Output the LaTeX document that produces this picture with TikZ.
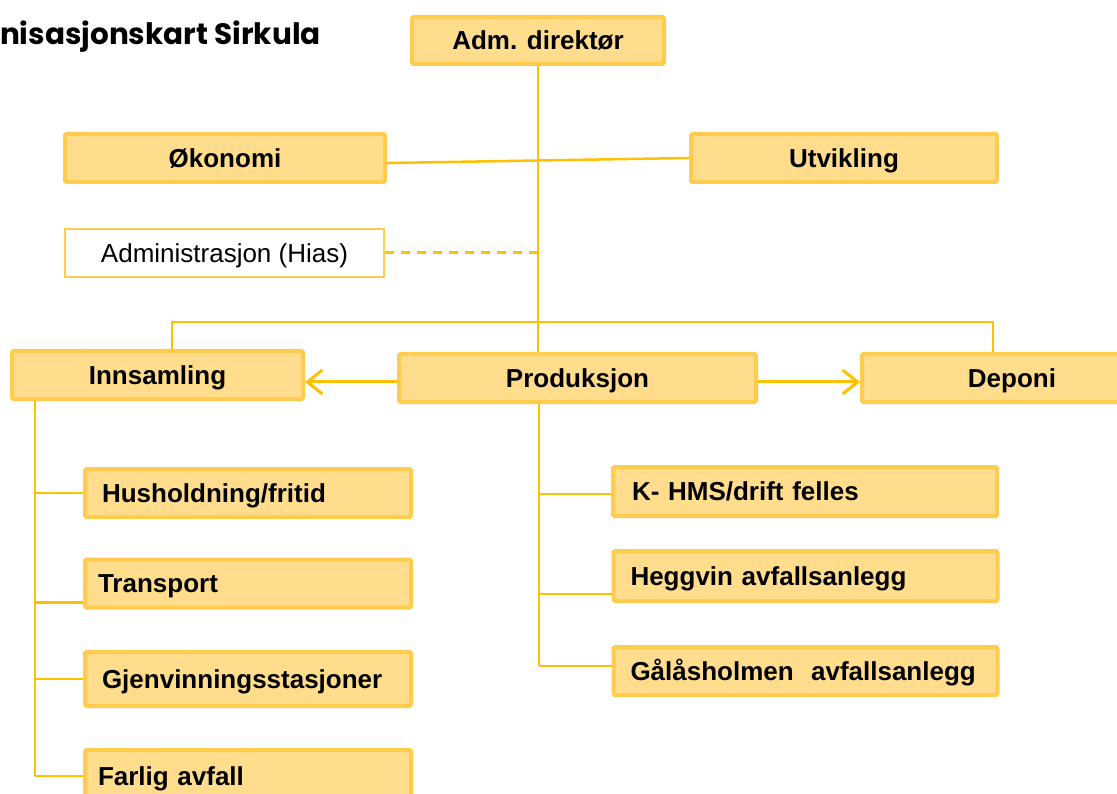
\documentclass[tikz,border=0pt]{standalone}
\usepackage{fontspec}
\setmainfont{Liberation Sans}
\newfontfamily\titlefont{Poppins}
\usepackage{xcolor}
\usetikzlibrary{arrows.meta}
\definecolor{unitfill}{RGB}{255,221,140}
\definecolor{unitedge}{RGB}{255,204,77}
\definecolor{linkyellow}{RGB}{255,192,0}

\tikzset{
    unit/.style={draw=unitedge, fill=unitfill, line width=4pt, rounded corners=1.5pt,
        inner sep=0pt, minimum height=48pt, text height=18.6pt, text depth=0pt,
        font=\fontsize{26}{30}\selectfont\bfseries},
    subunit/.style={unit, text width=#1, align=left, inner xsep=17pt},
    hiasbox/.style={draw=unitedge, fill=white, line width=2pt, inner sep=0pt,
        minimum height=48pt, text height=18.6pt, text depth=0pt,
        font=\fontsize{26}{30}\selectfont},
    link/.style={draw=linkyellow, line width=2.5pt},
    dashlink/.style={link, line width=3pt, dash pattern=on 9pt off 7pt},
    flow/.style={link, line width=3pt, -{Straight Barb[length=15pt,width=24pt,line width=3pt]}}
}

\begin{document}
\begin{tikzpicture}[x=1pt,y=-1pt]
    % frame
    \useasboundingbox (0,0) rectangle (1117,794);
    \clip (0,0) rectangle (1117,794);

    \node[anchor=base east, inner sep=0pt, font=\titlefont\fontsize{29.5}{32}\selectfont\bfseries] (title) at (321,45) {Organisasjonskart Sirkula};

    % top level
    \node[unit, minimum width=252pt, minimum height=47pt] (adm) at (538,40.5) {Adm. direktør};
    \node[unit, minimum width=320pt] (okonomi) at (225,158) {Økonomi};
    \node[unit, minimum width=306pt] (utvikling) at (844,158) {Utvikling};
    \node[hiasbox, minimum width=319pt] (hias) at (224.5,253) {Administrasjon (Hias)};

    % departments
    \node[unit, minimum width=291pt] (innsamling) at (157.5,375) {Innsamling};
    \node[unit, minimum width=357pt] (produksjon) at (577.5,378) {Produksjon};
    \node[unit, minimum width=300pt] (deponi) at (1012,378) {Deponi};

    % innsamling
    \node[subunit=292pt] (hush) at (248,493) {Husholdning/fritid};
    \node[subunit=300pt, inner xsep=13pt] (transport) at (248,583.5) {Transport};
    \node[subunit=292pt, minimum height=54pt] (gjenv) at (248,679) {Gjenvinningsstasjoner};
    \node[subunit=300pt, inner xsep=13pt, minimum height=52pt] (farlig) at (248,776) {Farlig avfall};

    % produksjon
    \node[subunit=346pt, inner xsep=19pt, minimum height=49pt] (khms) at (805,491.5) {K- HMS/drift felles};
    \node[subunit=350pt, minimum height=50pt] (heggvin) at (805.5,576) {Heggvin avfallsanlegg};
    \node[subunit=350pt] (gala) at (805.5,671) {Gålåsholmen\ \ avfallsanlegg};

    % lines
    \coordinate (busL) at (172,322);
    \coordinate (busR) at (993,322);
    \coordinate (ltrunk) at (35,401);
    \coordinate (rtrunk) at (539,404);
    \coordinate (transportin) at ([yshift=-19pt]transport.west);
    \coordinate (khmsin) at ([yshift=-2.5pt]khms.west);
    \coordinate (heggvinin) at ([yshift=-18pt]heggvin.west);
    \coordinate (galain) at ([yshift=5pt]gala.west);

    \draw[link] (adm.south) -- (adm.south |- produksjon.north);
    \draw[link] ([yshift=-5pt]okonomi.east) -- (utvikling.west);
    \draw[dashlink] (hias.east) -- (adm.south |- hias.east);
    \draw[link] (busL |- innsamling.north) -- (busL) -- (busR) -- (busR |- deponi.north);

    \draw[flow] ([yshift=-4pt]produksjon.west) -- ([yshift=-4pt]produksjon.west -| innsamling.east);
    \draw[flow] ([yshift=-4pt]produksjon.east) -- ([yshift=-4pt]produksjon.east -| deponi.west);

    \draw[link] (ltrunk |- innsamling.south) -- (ltrunk |- farlig.west);
    \draw[link] (ltrunk |- hush.west) -- (hush.west);
    \draw[link] (ltrunk |- transportin) -- (transportin);
    \draw[link] (ltrunk |- gjenv.west) -- (gjenv.west);
    \draw[link] (ltrunk |- farlig.west) -- (farlig.west);

    \draw[link] (rtrunk |- produksjon.south) -- (rtrunk |- galain);
    \draw[link] (rtrunk |- khmsin) -- (khmsin);
    \draw[link] (rtrunk |- heggvinin) -- (heggvinin);
    \draw[link] (rtrunk |- galain) -- (galain);
\end{tikzpicture}
\end{document}
